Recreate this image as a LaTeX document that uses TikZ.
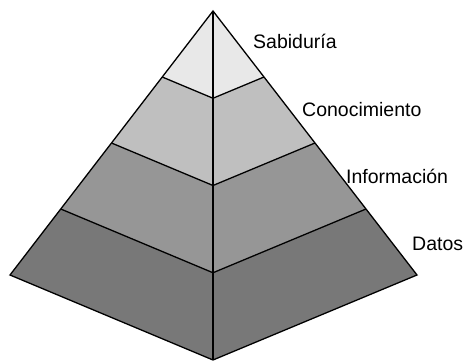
\documentclass[tikz,border=0pt]{standalone}
\usepackage{fontspec}
\setmainfont{Liberation Sans}
\usetikzlibrary{calc}
\begin{document}
\begin{tikzpicture}[x=1pt,y=-1pt,
  edge/.style={draw=black,line width=1.3pt,line join=miter},
  label/.style={anchor=base west,inner sep=0pt,font=\fontsize{19.5}{23}\selectfont},
  tierA/.style={fill=black!9},
  tierB/.style={fill=black!25},
  tierC/.style={fill=black!41},
  tierD/.style={fill=black!53}]
\useasboundingbox (0,0) rectangle (464,361);
% corners of the pyramid
\coordinate (A) at (213,11);
\coordinate (L) at (10,275);
\coordinate (R) at (417,275);
\coordinate (B) at (213,360);
% tier boundaries at quarters of each edge
\foreach \k/\f in {1/0.25,2/0.5,3/0.75}{
  \coordinate (L\k) at ($(A)!\f!(L)$);
  \coordinate (C\k) at ($(A)!\f!(B)$);
  \coordinate (R\k) at ($(A)!\f!(R)$);
}
% tier fills
\fill[tierA] (A) -- (R1) -- (C1) -- (L1) -- cycle;
\fill[tierB] (L1) -- (C1) -- (R1) -- (R2) -- (C2) -- (L2) -- cycle;
\fill[tierC] (L2) -- (C2) -- (R2) -- (R3) -- (C3) -- (L3) -- cycle;
\fill[tierD] (L3) -- (C3) -- (R3) -- (R) -- (B) -- (L) -- cycle;
% outlines
\draw[edge] (A) -- (L) -- (B) -- (R) -- cycle;
\draw[edge] (A) -- (B);
\draw[edge] (L1) -- (C1) -- (R1);
\draw[edge] (L2) -- (C2) -- (R2);
\draw[edge] (L3) -- (C3) -- (R3);
% labels
\node[label] (sab) at (253,49) {Sabiduría};
\node[label] (con) at (302,117) {Conocimiento};
\node[label] (inf) at (346,183) {Información};
\node[label] (dat) at (412,251) {Datos};
\end{tikzpicture}
\end{document}
